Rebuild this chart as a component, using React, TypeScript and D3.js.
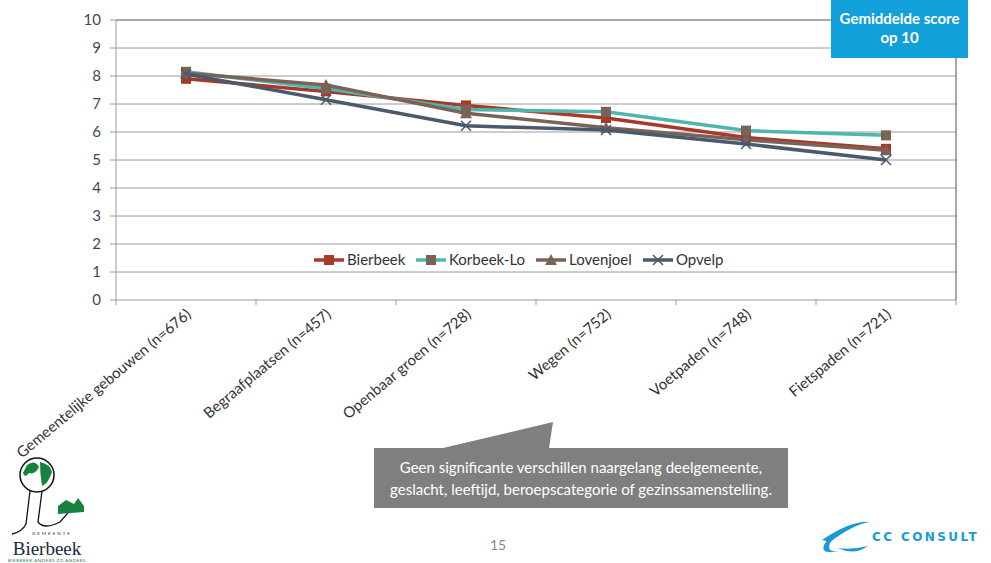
import React from "react";
import * as d3 from "d3";

const categories = [
  "Gemeentelijke gebouwen (n=676)",
  "Begraafplaatsen (n=457)",
  "Openbaar groen (n=728)",
  "Wegen (n=752)",
  "Voetpaden (n=748)",
  "Fietspaden (n=721)",
];
const seriesNames = ["Bierbeek", "Korbeek-Lo", "Lovenjoel", "Opvelp"];
const bierbeek = [7.9, 7.45, 6.95, 6.5, 5.8, 5.4];
const korbeekLo = [8.15, 7.55, 6.8, 6.72, 6.05, 5.88];
const lovenjoel = [8.1, 7.68, 6.67, 6.15, 5.72, 5.35];
const opvelp = [8.07, 7.15, 6.22, 6.07, 5.57, 5.0];
const yTicks = [0, 1, 2, 3, 4, 5, 6, 7, 8, 9, 10];

const W = 991, H = 563;
const M = { left: 116, right: 956, top: 20, bottom: 300 };
const FONT = "Lato, 'Open Sans', sans-serif";

type S = { name: string; values: number[]; line: string; marker: string; shape: string };
const series: S[] = [
  { name: seriesNames[0], values: bierbeek, line: "#a8382a", marker: "#a8382a", shape: "square" },
  { name: seriesNames[1], values: korbeekLo, line: "#4fb6ae", marker: "#7a6256", shape: "square" },
  { name: seriesNames[2], values: lovenjoel, line: "#7a6256", marker: "#7a6256", shape: "triangle" },
  { name: seriesNames[3], values: opvelp, line: "#4a5a6c", marker: "#4a5a6c", shape: "x" },
];

function Marker({ x, y, s }: { x: number; y: number; s: S }) {
  if (s.shape === "square") return <rect x={x - 5} y={y - 5} width={10} height={10} fill={s.marker} />;
  if (s.shape === "triangle")
    return <path d={`M${x},${y - 6}L${x + 6},${y + 5}L${x - 6},${y + 5}Z`} fill={s.marker} />;
  return (
    <path d={`M${x - 5},${y - 5}L${x + 5},${y + 5}M${x - 5},${y + 5}L${x + 5},${y - 5}`} stroke={s.marker} strokeWidth={1.5} />
  );
}

export default function App() {
  const x = d3.scaleBand().domain(categories).range([M.left, M.right]);
  const y = d3.scaleLinear().domain([0, 10]).range([M.bottom, M.top]);
  const line = d3
    .line<number>()
    .x((_, i) => (x(categories[i]) as number) + x.bandwidth() / 2)
    .y((v) => y(v));

  const legendItems = [
    { s: series[0], lx: 314 },
    { s: series[1], lx: 416 },
    { s: series[2], lx: 536 },
    { s: series[3], lx: 643 },
  ];
  const ly = 260;

  return (
    <svg width={W} height={H} style={{ position: "absolute", left: 0, top: 0, background: "#fff" }} fontFamily={FONT}>
      {/* gridlines */}
      {yTicks.map((t) => (
        <line key={t} x1={M.left} x2={M.right} y1={y(t)} y2={y(t)} stroke={t === 10 ? "#4a5566" : "#9a9a9a"} strokeWidth={1} />
      ))}
      {/* right border */}
      <line x1={M.right} x2={M.right} y1={M.top} y2={M.bottom} stroke="#4a5566" strokeWidth={1} />
      {/* y axis */}
      <line x1={M.left} x2={M.left} y1={M.top} y2={M.bottom} stroke="#9a9a9a" />
      {yTicks.map((t) => (
        <g key={"yt" + t}>
          <line x1={M.left - 6} x2={M.left} y1={y(t)} y2={y(t)} stroke="#9a9a9a" />
          <text x={101} y={y(t)} dy="0.35em" textAnchor="end" fontSize={15} fill="#3c4858">
            {t}
          </text>
        </g>
      ))}
      {/* x axis ticks */}
      {categories.map((c, i) => (
        <line key={"xt" + i} x1={x(c) as number} x2={x(c) as number} y1={M.bottom} y2={M.bottom + 5} stroke="#9a9a9a" />
      ))}
      <line x1={M.right} x2={M.right} y1={M.bottom} y2={M.bottom + 5} stroke="#9a9a9a" />
      {/* x labels */}
      {categories.map((c) => {
        const cx = (x(c) as number) + x.bandwidth() / 2;
        return (
          <text key={"xl" + c} transform={`translate(${cx + 6},${M.bottom + 16}) rotate(-40)`} textAnchor="end" fontSize={15} fill="#333">
            {c}
          </text>
        );
      })}
      {/* series */}
      {series.map((s) => (
        <g key={s.name}>
          <path d={line(s.values) || ""} fill="none" stroke={s.line} strokeWidth={3.5} strokeLinejoin="round" />
          {s.values.map((v, i) => (
            <Marker key={i} x={(x(categories[i]) as number) + x.bandwidth() / 2} y={y(v)} s={s} />
          ))}
        </g>
      ))}
      {/* legend */}
      {legendItems.map(({ s, lx }) => (
        <g key={"lg" + s.name}>
          <line x1={lx} x2={lx + 30} y1={ly} y2={ly} stroke={s.line} strokeWidth={3.5} />
          <Marker x={lx + 15} y={ly} s={s} />
          <text x={lx + 33} y={ly} dy="0.35em" fontSize={15} fill="#333">
            {s.name}
          </text>
        </g>
      ))}
      {/* blue box */}
      <rect x={831} y={0} width={137} height={58} fill="#12a0da" />
      <text x={899.5} y={24} textAnchor="middle" fontSize={15} fontWeight="bold" fill="#fff">
        Gemiddelde score
      </text>
      <text x={899.5} y={43} textAnchor="middle" fontSize={15} fontWeight="bold" fill="#fff">
        op 10
      </text>
      {/* callout */}
      <path d="M374,448L443,448L553,422L549,448L788,448L788,508L374,508Z" fill="#7f7f7f" />
      <text x={581} y={473} textAnchor="middle" fontSize={15} fill="#fff">
        Geen significante verschillen naargelang deelgemeente,
      </text>
      <text x={581} y={495} textAnchor="middle" fontSize={15} fill="#fff">
        geslacht, leeftijd, beroepscategorie of gezinssamenstelling.
      </text>
      {/* page number */}
      <text x={498} y={550} textAnchor="middle" fontSize={14} fill="#888">
        15
      </text>
      {/* Bierbeek logo */}
      <g>
        <circle cx={37} cy={475} r={17} fill="#fff" stroke="#111" strokeWidth={1.5} />
        <path d="M27,465 q8,-6 12,2 q-4,8 -10,6 q-4,6 -6,0z" fill="#17813f" />
        <path d="M40,462 q10,2 12,10 q-4,12 -10,14 q-2,-12 -2,-24z" fill="#17813f" />
        <path d="M30,491 L26,524 Q22,532 12,534 M42,491 L38,522 Q44,530 60,522 L74,506" fill="none" stroke="#111" strokeWidth={1.3} />
        <path d="M58,506 L66,500 L74,504 L78,498 L84,506 L84,512 L58,514 Z" fill="#17813f" />
        <text x={52} y={535} textAnchor="middle" fontSize={4.5} letterSpacing={2} fill="#333">GEMEENTE</text>
        <text x={47} y={555} textAnchor="middle" fontSize={19} fontFamily="'Liberation Serif', serif" fill="#1b2a3a">Bierbeek</text>
        <text x={47} y={561.5} textAnchor="middle" fontSize={4.5} letterSpacing={0.5} fill="#17813f">BIERBEEK ANDERS ZO ANDERS</text>
      </g>
      {/* CC Consult logo */}
      <g>
        <path d="M852,525 q-22,8 -28,20 q-4,10 16,6 q-14,2 -10,-8 q6,-12 22,-18z" fill="#1a9ad6" />
        <path d="M822,540 q30,-20 48,-18 q-16,2 -40,20z" fill="#1a9ad6" />
        <path d="M838,548 q16,8 30,-2 q-16,4 -30,2z" fill="#1a9ad6" />
        <text x={872} y={541} fontSize={12} fontWeight="bold" letterSpacing={2.4} fill="#1a9ad6" fontFamily="'DejaVu Sans', sans-serif">
          CC CONSULT
        </text>
      </g>
    </svg>
  );
}
